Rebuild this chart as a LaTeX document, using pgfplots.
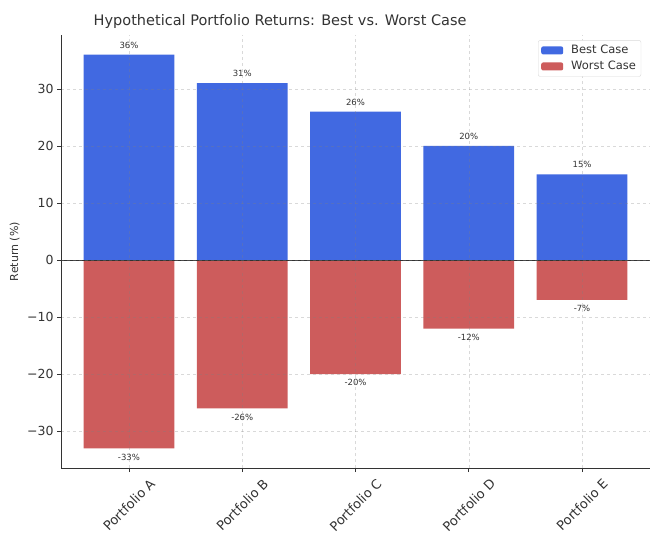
\documentclass[border=0pt]{standalone}
\usepackage{pgfplots}
\pgfplotsset{compat=1.18}
\usepackage{fontspec}
\setmainfont{DejaVu Sans}
\definecolor{bestc}{HTML}{4169E1}
\definecolor{worstc}{HTML}{CD5C5C}
\definecolor{txtc}{HTML}{333333}
\begin{document}
\begin{tikzpicture}
\path[use as bounding box] (0pt,0pt) rectangle (663pt,533pt);
\begin{axis}[
  at={(61pt,65pt)}, anchor=south west,
  scale only axis, width=589pt, height=433pt,
  xmin=-0.6, xmax=4.6, ymin=-36.45, ymax=39.45,
  axis x line*=bottom, axis y line*=left,
  x axis line style={-, color=txtc, line width=0.9pt},
  y axis line style={-, color=txtc, line width=0.9pt},
  xtick={0,1,2,3,4},
  xticklabels={Portfolio A,Portfolio B,Portfolio C,Portfolio D,Portfolio E},
  x tick label style={yshift=-33pt, rotate=45, anchor=center, font=\fontsize{13}{15}\selectfont, text=txtc},
  ytick={-30,-20,-10,0,10,20,30},
  yticklabels={−30,−20,−10,0,10,20,30},
  y tick label style={font=\fontsize{12.5}{14}\selectfont, text=txtc},
  tick align=outside, major tick length=4pt,
  tick style={color=txtc, line width=0.8pt},
  grid=major,
  major grid style={dashed, color=gray, opacity=0.3, line width=0.5pt},
  axis on top,
  ylabel={Return (\%)},
  ylabel style={font=\fontsize{11}{13}\selectfont, text=txtc, at={(-38pt,0.5)}, anchor=south},
  title={Hypothetical Portfolio Returns: Best vs. Worst Case},
  title style={font=\fontsize{14.5}{17}\selectfont, text=txtc, at={(0.372,1)}, anchor=base, yshift=4pt},
  legend style={at={(0.985,0.988)}, anchor=north east, draw=gray!30, rounded corners=2pt,
    font=\fontsize{11.5}{13}\selectfont, text=txtc, row sep=2pt, inner sep=3pt,
    nodes={inner sep=2pt}},
  legend cell align=left,
  bar width=0.8, ybar, bar shift=0pt,
  nodes near coords, point meta=explicit symbolic,
  every node near coord/.append style={font=\fontsize{8.5}{10}\selectfont, text=txtc},
]
\addplot[draw=none, fill=bestc, nodes near coords align={above},
  every node near coord/.append style={yshift=3pt},
  legend image code/.code={\fill[bestc] (0pt,-4pt) rectangle (22pt,4pt); \path (28pt,0pt);}] coordinates {
 (0,36) [36\%] (1,31) [31\%] (2,26) [26\%] (3,20) [20\%] (4,15) [15\%]};
\addlegendentry{Best Case}
\addplot[draw=none, fill=worstc, nodes near coords align={below},
  every node near coord/.append style={yshift=-2pt},
  legend image code/.code={\fill[worstc] (0pt,-4pt) rectangle (22pt,4pt); \path (28pt,0pt);}] coordinates {
 (0,-33) [-33\%] (1,-26) [-26\%] (2,-20) [-20\%] (3,-12) [-12\%] (4,-7) [-7\%]};
\addlegendentry{Worst Case}
\addplot[ybar=false, sharp plot, no marks, nodes near coords={}, color=black!80, line width=0.8pt, forget plot] coordinates {(-0.6,0) (4.6,0)};
\end{axis}
\end{tikzpicture}
\end{document}
